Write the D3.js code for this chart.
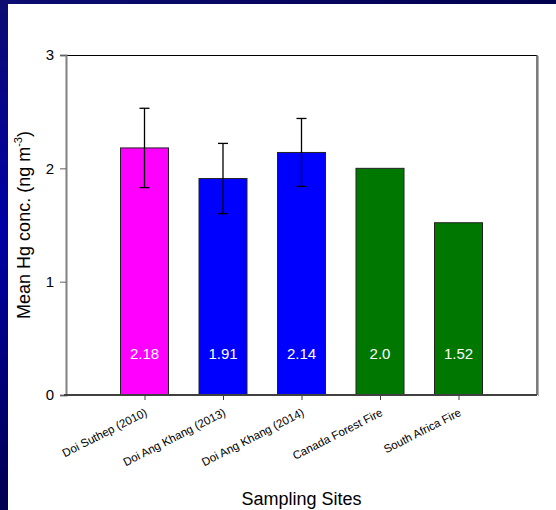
<!DOCTYPE html>
<html>
<head>
<meta charset="utf-8">
<script src="https://cdn.jsdelivr.net/npm/d3@7"></script>
<style>
  html, body { margin: 0; padding: 0; background: #fff; }
  svg { display: block; }
  text { font-family: Arial, "Liberation Sans", sans-serif; }
</style>
</head>
<body>
<svg id="chart" width="556" height="510"></svg>
<script>
// Sampling sites and mean Hg concentrations (ng m^-3)
const sites = ["Doi Suthep (2010)", "Doi Ang Khang (2013)", "Doi Ang Khang (2014)", "Canada Forest Fire", "South Africa Fire"];
const means = [2.18, 1.91, 2.14, 2.0, 1.52];
const errors = [0.35, 0.31, 0.30, null, null];
const valueLabels = ["2.18", "1.91", "2.14", "2.0", "1.52"];
const barColors = ["#ff00ff", "#0000ff", "#0000ff", "#007800", "#007800"];
const yTicks = [0, 1, 2, 3];

const svg = d3.select("#chart");
const W = 556, H = 510;
const plot = { left: 66, right: 537, top: 55, bottom: 395 };

// Slide-style blue edge strips
const defs = svg.append("defs");
const gLeft = defs.append("linearGradient").attr("id", "leftStrip")
  .attr("x1", 0).attr("y1", 0).attr("x2", 0).attr("y2", 1);
gLeft.append("stop").attr("offset", "0%").attr("stop-color", "#0c0c72");
gLeft.append("stop").attr("offset", "45%").attr("stop-color", "#0000a6");
gLeft.append("stop").attr("offset", "100%").attr("stop-color", "#000050");
const gTop = defs.append("linearGradient").attr("id", "topStrip")
  .attr("x1", 0).attr("y1", 0).attr("x2", 1).attr("y2", 0);
gTop.append("stop").attr("offset", "0%").attr("stop-color", "#0c0c72");
gTop.append("stop").attr("offset", "100%").attr("stop-color", "#00004e");

svg.append("rect").attr("x", 0).attr("y", 0).attr("width", W).attr("height", H).attr("fill", "#fff");
svg.append("rect").attr("x", 0).attr("y", 0).attr("width", W).attr("height", 4).attr("fill", "url(#topStrip)");
svg.append("rect").attr("x", 0).attr("y", 0).attr("width", 8).attr("height", H).attr("fill", "url(#leftStrip)");

// Scales
const x = d3.scalePoint().domain(sites).range([plot.left, plot.right]).padding(1);
const y = d3.scaleLinear().domain([0, 3]).range([plot.bottom, plot.top]);
const barW = 48;

// Frame: top and right edges
svg.append("line").attr("x1", plot.left).attr("x2", plot.right).attr("y1", plot.top + 0.5).attr("y2", plot.top + 0.5)
  .attr("stroke", "#000").attr("stroke-width", 1);
svg.append("line").attr("x1", plot.right + 1.5).attr("x2", plot.right + 1.5).attr("y1", plot.top + 1).attr("y2", plot.bottom + 1)
  .attr("stroke", "#b0b0b0").attr("stroke-width", 1);
svg.append("line").attr("x1", plot.right).attr("x2", plot.right).attr("y1", plot.top).attr("y2", plot.bottom)
  .attr("stroke", "#505050").attr("stroke-width", 1.5);

// Bars
svg.append("g").selectAll("rect").data(sites).join("rect")
  .attr("x", d => x(d) - barW / 2)
  .attr("y", (d, i) => y(means[i]))
  .attr("width", barW)
  .attr("height", (d, i) => y(0) - y(means[i]))
  .attr("fill", (d, i) => barColors[i])
  .attr("stroke", "#222")
  .attr("stroke-width", 1);

// Error bars
const eb = svg.append("g").attr("stroke", "#000").attr("stroke-width", 1.3);
sites.forEach((s, i) => {
  if (errors[i] == null) return;
  const cx = x(s);
  const hi = y(means[i] + errors[i]), lo = y(means[i] - errors[i]);
  eb.append("line").attr("x1", cx).attr("x2", cx).attr("y1", hi).attr("y2", lo);
  eb.append("line").attr("x1", cx - 5).attr("x2", cx + 5).attr("y1", hi).attr("y2", hi);
  eb.append("line").attr("x1", cx - 5).attr("x2", cx + 5).attr("y1", lo).attr("y2", lo);
});

// Value labels inside bars
svg.append("g").selectAll("text").data(sites).join("text")
  .attr("x", d => x(d))
  .attr("y", 359)
  .attr("text-anchor", "middle")
  .attr("fill", "#fff")
  .attr("font-size", 15)
  .text((d, i) => valueLabels[i]);

// Y axis
const yAxis = svg.append("g").attr("transform", `translate(${plot.left},0)`)
  .call(d3.axisLeft(y).tickValues(yTicks).tickFormat(d3.format("d")).tickSize(6).tickPadding(6));
yAxis.select(".domain").attr("stroke", "#808080").attr("stroke-width", 2);
yAxis.selectAll(".tick line").attr("stroke", "#606060").attr("stroke-width", 1);
yAxis.selectAll(".tick text").attr("font-size", 15).attr("fill", "#000")
  .attr("font-family", "Arial, 'Liberation Sans', sans-serif");

// X axis
const xAxis = svg.append("g").attr("transform", `translate(0,${plot.bottom})`)
  .call(d3.axisBottom(x).tickSize(5).tickSizeOuter(0).tickFormat(""));
xAxis.select(".domain").attr("stroke", "#404040").attr("stroke-width", 2)
  .attr("d", `M${plot.left - 2},0H${plot.right}`);
xAxis.selectAll(".tick line").attr("stroke", "#404040").attr("stroke-width", 1).attr("y1", 1);

// Rotated site labels
svg.append("g").selectAll("text").data(sites).join("text")
  .attr("transform", d => `translate(${x(d) + 3.5},${plot.bottom + 20}) rotate(-27)`)
  .attr("text-anchor", "end")
  .attr("font-size", 11.5)
  .attr("fill", "#000")
  .text(d => d);

// Axis titles
svg.append("text")
  .attr("x", (plot.left + plot.right) / 2)
  .attr("y", 505)
  .attr("text-anchor", "middle")
  .attr("font-size", 18)
  .attr("fill", "#000")
  .text("Sampling Sites");

const yTitle = svg.append("text")
  .attr("transform", `translate(30,${(plot.top + plot.bottom) / 2}) rotate(-90)`)
  .attr("text-anchor", "middle")
  .attr("font-size", 18)
  .attr("fill", "#000");
yTitle.append("tspan").text("Mean Hg conc. (ng m");
yTitle.append("tspan").attr("font-size", 11).attr("dy", -8).text("-3");
yTitle.append("tspan").attr("dy", 8).text(")");
</script>
</body>
</html>
